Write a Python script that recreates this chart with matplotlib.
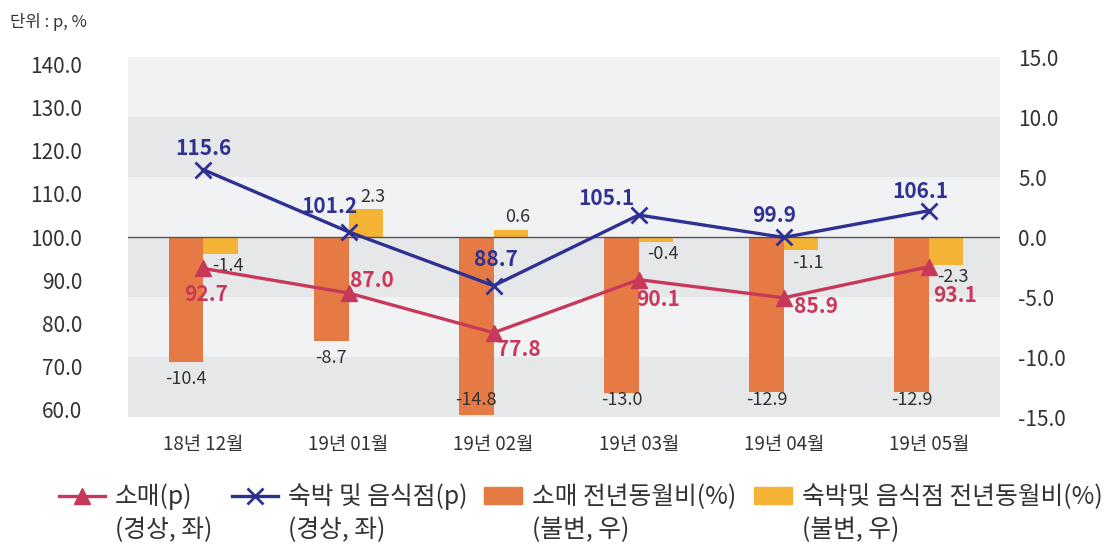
import numpy as np
import matplotlib
matplotlib.use('Agg')
import matplotlib.pyplot as plt
from matplotlib.lines import Line2D
from matplotlib.patches import Patch

plt.rcParams['font.family'] = ['Noto Sans CJK KR', 'DejaVu Sans']

# data
months = ['18년 12월', '19년 01월', '19년 02월', '19년 03월', '19년 04월', '19년 05월']
retail_idx = [92.7, 87.0, 77.8, 90.1, 85.9, 93.1]
lodging_idx = [115.6, 101.2, 88.7, 105.1, 99.9, 106.1]
retail_yoy = [-10.4, -8.7, -14.8, -13.0, -12.9, -12.9]
lodging_yoy = [-1.4, 2.3, 0.6, -0.4, -1.1, -2.3]

# label offsets in points
lodging_off = [(0, 15), (-14, 18), (2, 19), (-23, 12), (-7, 16), (-6, 14)]
retail_off = [(2, -19), (17, 9), (18, -12), (14, -14), (23, -6), (19, -21)]

legend_top = ['소매(p)', '숙박 및 음식점(p)', '소매 전년동월비(%)', '숙박및 음식점 전년동월비(%)']
legend_sub = ['(경상, 좌)', '(경상, 좌)', '(불변, 우)', '(불변, 우)']

c_retail = '#c8385a'
c_lodging = '#2e3192'
c_orange = '#e57a44'
c_yellow = '#f5b335'
c_text = '#333333'

W, H = 1109, 545
fig = plt.figure(figsize=(W / 100, H / 100), dpi=100)
ax = fig.add_axes([128 / W, 1 - 417 / H, 872 / W, 360 / H])
x = np.arange(len(months))
w = 0.238

# background bands
for lo in range(-15, 15, 5):
    shade = '#e6e7e9' if (lo // 5) % 2 == 1 else '#f1f2f4'
    ax.axhspan(lo, lo + 5, color=shade, lw=0, zorder=0)

ax.bar(x - w / 2, retail_yoy, w, color=c_orange, zorder=2)
ax.bar(x + w / 2, lodging_yoy, w, color=c_yellow, zorder=2)
ax.axhline(0, color='#555555', lw=1, zorder=3)

for xi, v in zip(x, retail_yoy):
    ax.text(xi - w / 2, max(v - 1.4, -13.6), f'{v:.1f}', ha='center', va='center',
            fontsize=13, color=c_text, zorder=4)
for xi, v in zip(x, lodging_yoy):
    ax.annotate(f'{v:.1f}', (xi + w / 2, v), xytext=(5, 9 if v > 0 else -9),
                textcoords='offset points', ha='center', va='center',
                fontsize=13, color=c_text, zorder=4)

ax.set_ylim(-15, 15)
ax.set_yticks(np.arange(-15, 16, 5))
ax.set_yticklabels([f'{t:.1f}' for t in np.arange(-15, 16, 5)])
ax.set_xlim(-0.52, 5.49)
ax.set_xticks(x)
ax.set_xticklabels(months)
ax.tick_params(axis='both', length=0, labelsize=15, colors=c_text, pad=13)
ax.tick_params(axis='x', labelsize=13.5, pad=12)
for s in ax.spines.values():
    s.set_visible(False)

lax = ax.twinx()
ax.yaxis.tick_right()
lax.yaxis.tick_left()
lax.plot(x, retail_idx, color=c_retail, lw=2.4, marker='^', ms=11, zorder=5)
lax.plot(x, lodging_idx, color=c_lodging, lw=2.4, marker='x', ms=11, mew=2, zorder=5)
for xi, v, off in zip(x, lodging_idx, lodging_off):
    lax.annotate(f'{v:.1f}', (xi, v), xytext=off, textcoords='offset points',
                 ha='center', va='center', fontsize=15, fontweight='bold', color=c_lodging)
for xi, v, off in zip(x, retail_idx, retail_off):
    lax.annotate(f'{v:.1f}', (xi, v), xytext=off, textcoords='offset points',
                 ha='center', va='center', fontsize=15, fontweight='bold', color=c_retail)
lax.set_ylim(58.25, 141.75)
lax.set_yticks(np.arange(60, 141, 10))
lax.set_yticklabels([f'{t:.1f}' for t in np.arange(60, 141, 10)])
lax.tick_params(axis='y', length=0, labelsize=15, colors=c_text, pad=33)
for s in lax.spines.values():
    s.set_visible(False)

fig.text(10 / W, 1 - 22 / H, '단위 : p, %', fontsize=12, color=c_text, va='center')

# legend: one small legend per entry so each sits where the reference has it
handles = [
    Line2D([], [], color=c_retail, lw=2.4, marker='^', ms=11),
    Line2D([], [], color=c_lodging, lw=2.4, marker='x', ms=11, mew=2),
    Patch(color=c_orange),
    Patch(color=c_yellow),
]
leg_x = [59, 232, 484, 754]
leg_hlen = [1.85, 1.85, 1.55, 1.55]
legs = []
for h, lab, lx, hl in zip(handles, legend_top, leg_x, leg_hlen):
    lg = fig.legend([h], [lab], loc='center left', bbox_to_anchor=(lx / W, 1 - 497 / H),
                    frameon=False, fontsize=17.8, handlelength=hl, handletextpad=0.4,
                    borderpad=0, borderaxespad=0, labelcolor=c_text)
    legs.append(lg)

# second line of each legend entry sits under the first
fig.canvas.draw()
for lg, sub in zip(legs, legend_sub):
    bb = lg.get_texts()[0].get_window_extent()
    fig.text(bb.x0 / W, (bb.y0 - 33) / H, sub, fontsize=17.8, color=c_text, va='bottom')

fig.savefig('out.png', dpi=100)
